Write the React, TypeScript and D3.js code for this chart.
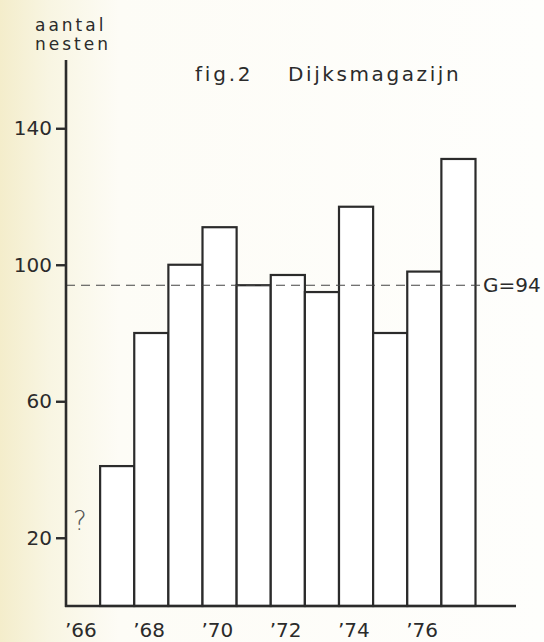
import { useEffect, useRef } from "react";
import * as d3 from "d3";

// nest counts per year (1966 unknown -> "?")
const years = [1966, 1967, 1968, 1969, 1970, 1971, 1972, 1973, 1974, 1975, 1976, 1977];
const nests: (number | null)[] = [null, 41, 80, 100, 111, 94, 97, 92, 117, 80, 98, 131];
const yTicks = [20, 60, 100, 140];
const labelYears = [1966, 1968, 1970, 1972, 1974, 1976];
const meanValue = 94;

const W = 544;
const H = 642;
const FONT = "'DejaVu Sans', Verdana, sans-serif";
const INK = "#2b2b2b";

export default function App() {
  const svgRef = useRef<SVGSVGElement | null>(null);

  useEffect(() => {
    document.body.style.margin = "0";
    if (!svgRef.current) return;

    const svg = d3.select(svgRef.current);
    svg.selectAll("*").remove();

    const margin = { top: 60, left: 66, bottom: 36 };
    const baseline = H - margin.bottom;

    // paper background, yellowish toward the left edge
    const defs = svg.append("defs");
    const grad = defs
      .append("linearGradient")
      .attr("id", "paper")
      .attr("x1", "0%")
      .attr("x2", "100%");
    grad.append("stop").attr("offset", "0%").attr("stop-color", "#f4edcb");
    grad.append("stop").attr("offset", "9%").attr("stop-color", "#f8f5e2");
    grad.append("stop").attr("offset", "22%").attr("stop-color", "#fdfcf6");
    grad.append("stop").attr("offset", "100%").attr("stop-color", "#fefefc");
    svg.append("rect").attr("width", W).attr("height", H).attr("fill", "url(#paper)");

    // Scales
    const x = d3
      .scaleBand<number>()
      .domain(years)
      .range([margin.left, 475.5])
      .padding(0);

    const y = d3.scaleLinear().domain([0, 160]).range([baseline, margin.top]);

    const g = svg.append("g");

    // Bars
    const data = years
      .map((yr, i) => ({ yr, v: nests[i] }))
      .filter((d) => d.v !== null) as { yr: number; v: number }[];

    g.selectAll("rect.bar")
      .data(data)
      .join("rect")
      .attr("class", "bar")
      .attr("x", (d) => x(d.yr) || 0)
      .attr("y", (d) => y(d.v))
      .attr("width", x.bandwidth())
      .attr("height", (d) => baseline - y(d.v))
      .attr("fill", "#ffffff")
      .attr("stroke", INK)
      .attr("stroke-width", 2.2);

    // Mean line
    g.append("line")
      .attr("x1", margin.left)
      .attr("x2", 482)
      .attr("y1", y(meanValue))
      .attr("y2", y(meanValue))
      .attr("stroke", "#444")
      .attr("stroke-width", 1.2)
      .attr("stroke-dasharray", "9,6");

    g.append("text")
      .attr("x", 483)
      .attr("y", y(meanValue))
      .attr("dy", "0.36em")
      .style("font-family", FONT)
      .style("font-size", "20px")
      .attr("fill", INK)
      .text(`G=${meanValue}`);

    // Y axis
    const yAxis = d3
      .axisLeft(y)
      .tickValues(yTicks)
      .tickSize(10)
      .tickPadding(4)
      .tickFormat((d) => String(d));

    const yg = g
      .append("g")
      .attr("transform", `translate(${margin.left},0)`)
      .call(yAxis);
    yg.select(".domain").remove();
    yg.selectAll("line").attr("stroke", INK).attr("stroke-width", 2.4);
    yg.selectAll("text")
      .style("font-family", FONT)
      .style("font-size", "20px")
      .attr("fill", INK);

    g.append("line")
      .attr("x1", margin.left)
      .attr("x2", margin.left)
      .attr("y1", y(160))
      .attr("y2", baseline + 1)
      .attr("stroke", INK)
      .attr("stroke-width", 2.6);

    // X axis baseline
    g.append("line")
      .attr("x1", margin.left - 1)
      .attr("x2", 516)
      .attr("y1", baseline)
      .attr("y2", baseline)
      .attr("stroke", INK)
      .attr("stroke-width", 2.4);

    // Year labels
    g.selectAll("text.year")
      .data(labelYears)
      .join("text")
      .attr("class", "year")
      .attr("x", (d) => (x(d) || 0) - 1)
      .attr("y", baseline + 31)
      .style("font-family", FONT)
      .style("font-size", "20px")
      .attr("fill", INK)
      .text((d) => "\u2019" + String(d).slice(2));

    // unknown first year
    g.append("text")
      .attr("x", (x(1966) || 0) + 7)
      .attr("y", 530)
      .style("font-family", FONT)
      .style("font-size", "26px")
      .style("font-weight", "200")
      .attr("fill", "#555")
      .text("?");

    // Axis title
    const axisTitle = svg
      .append("text")
      .style("font-family", FONT)
      .style("font-size", "17px")
      .style("letter-spacing", "3px")
      .attr("fill", INK);
    axisTitle.append("tspan").attr("x", 35).attr("y", 31).text("aantal");
    axisTitle.append("tspan").attr("x", 35).attr("y", 50).text("nesten");

    // Figure title
    svg
      .append("text")
      .attr("x", 195)
      .attr("y", 81)
      .style("font-family", FONT)
      .style("font-size", "20px")
      .style("letter-spacing", "2.8px")
      .attr("fill", INK)
      .text("fig.2");

    svg
      .append("text")
      .attr("x", 288)
      .attr("y", 81)
      .style("font-family", FONT)
      .style("font-size", "20px")
      .style("letter-spacing", "2.6px")
      .attr("fill", INK)
      .text("Dijksmagazijn");
  }, []);

  return (
    <svg
      ref={svgRef}
      width={W}
      height={H}
      style={{ display: "block", position: "absolute", left: 0, top: 0 }}
    />
  );
}
